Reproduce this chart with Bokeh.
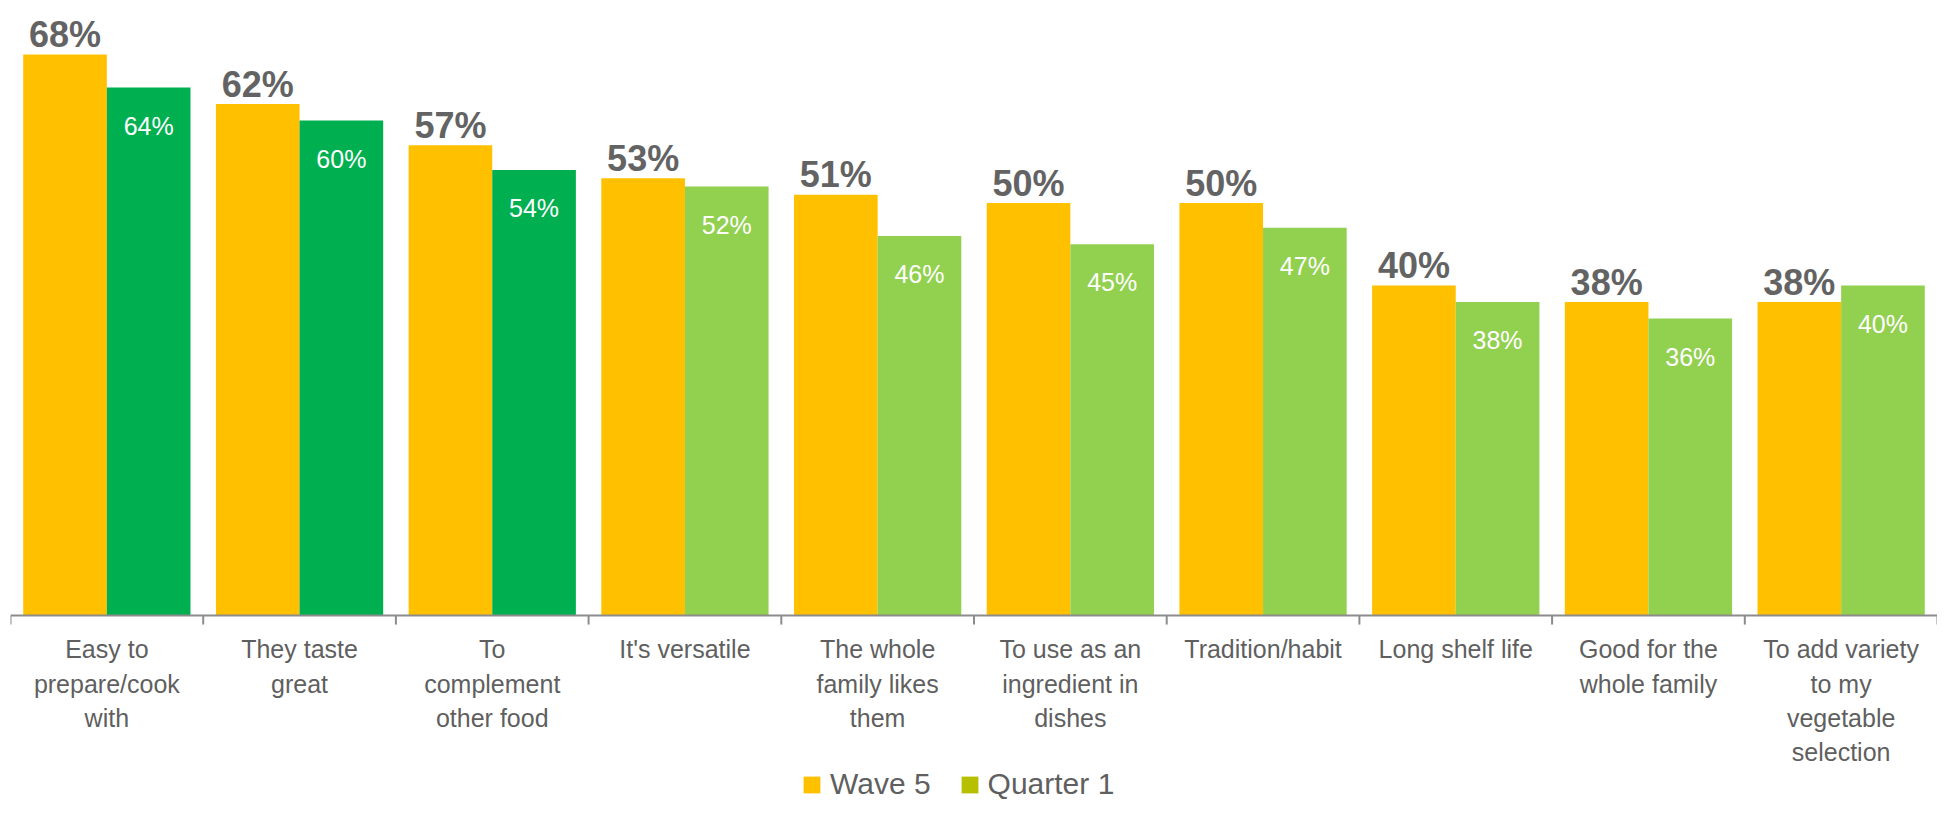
from bokeh.plotting import figure
from bokeh.models import ColumnDataSource, FactorRange, Range1d, Legend, LegendItem
from bokeh.transform import dodge
from bokeh.core.properties import value
from bokeh.embed import file_html
from bokeh.resources import INLINE

categories = [
    "Easy to\nprepare/cook\nwith",
    "They taste\ngreat",
    "To\ncomplement\nother food",
    "It's versatile",
    "The whole\nfamily likes\nthem",
    "To use as an\ningredient in\ndishes",
    "Tradition/habit",
    "Long shelf life",
    "Good for the\nwhole family",
    "To add variety\nto my\nvegetable\nselection",
]
wave5 = [68, 62, 57, 53, 51, 50, 50, 40, 38, 38]
quarter1 = [64, 60, 54, 52, 46, 45, 47, 38, 36, 40]
series_names = ["Wave 5", "Quarter 1"]

# styles
YELLOW = "#FFC000"
DARK_GREEN = "#00B050"
LIGHT_GREEN = "#92D050"
LEGEND_OLIVE = "#B7C000"
q1_colors = [DARK_GREEN] * 3 + [LIGHT_GREEN] * 7
FONT = "Liberation Sans"

src = ColumnDataSource(dict(
    cat=categories,
    wave5=wave5,
    q1=quarter1,
    q1_color=q1_colors,
    w5_lbl=[f"{v}%" for v in wave5],
    q1_lbl=[f"{v}%" for v in quarter1],
))

p = figure(
    width=1937, height=803,
    x_range=FactorRange(*categories),
    y_range=Range1d(-22.79, 74.55),
    y_axis_location=None,
    toolbar_location=None,
    output_backend="svg",
    min_border_left=10, min_border_right=0, min_border_top=0, min_border_bottom=0,
)
p.outline_line_color = None
p.xgrid.visible = False
p.ygrid.visible = False

BW = 0.434
OFF = 0.217
r1 = p.vbar(x=dodge("cat", -OFF, range=p.x_range), top="wave5", width=BW, source=src,
            fill_color=YELLOW, line_color=None)
r2 = p.vbar(x=dodge("cat", OFF, range=p.x_range), top="q1", width=BW, source=src,
            fill_color="q1_color", line_color=None)
# zero-height proxy bar, only for the legend swatch
rq = p.vbar(x=[categories[0]], bottom=[0], top=[0], width=BW,
            fill_color=LEGEND_OLIVE, line_color=None)

p.text(x=dodge("cat", -OFF, range=p.x_range), y="wave5", text="w5_lbl", source=src,
       text_align="center", text_baseline="alphabetic", y_offset=-20,
       text_font=value(FONT), text_font_style="bold", text_font_size="36px",
       text_color="#636363")
p.text(x=dodge("cat", OFF, range=p.x_range), y="q1", text="q1_lbl", source=src,
       text_align="center", text_baseline="alphabetic", y_offset=38,
       text_font=value(FONT), text_font_size="25px", text_color="white")

# category boundary ticks
p.segment(x0=dodge("cat", -0.5, range=p.x_range), y0=0,
          x1=dodge("cat", -0.5, range=p.x_range), y1=-1.1,
          source=src, line_color="#8c8c8c", line_width=2)
end_src = ColumnDataSource(dict(cat=[categories[-1]]))
p.segment(x0=dodge("cat", 0.5, range=p.x_range), y0=0,
          x1=dodge("cat", 0.5, range=p.x_range), y1=-1.1,
          source=end_src, line_color="#8c8c8c", line_width=2)

ax = p.xaxis[0]
ax.fixed_location = 0
ax.axis_line_color = "#8c8c8c"
ax.axis_line_width = 2
ax.major_tick_line_color = None
ax.major_tick_out = 0
ax.major_tick_in = 0
ax.major_label_standoff = 20
ax.major_label_text_font = FONT
ax.major_label_text_font_size = "25px"
ax.major_label_text_color = "#5f5f5f"
ax.major_label_text_line_height = 1.22

legend = Legend(
    items=[LegendItem(label=series_names[0], renderers=[r1]),
           LegendItem(label=series_names[1], renderers=[rq])],
    orientation="horizontal",
    location=(791, 2),
    border_line_color=None,
    background_fill_alpha=0,
    padding=0, margin=0, spacing=28,
    glyph_width=21, glyph_height=21, label_standoff=8,
    label_text_font=FONT, label_text_font_size="30px", label_text_color="#5f5f5f",
)
p.add_layout(legend)

open("out.html", "w").write(file_html(p, INLINE))
